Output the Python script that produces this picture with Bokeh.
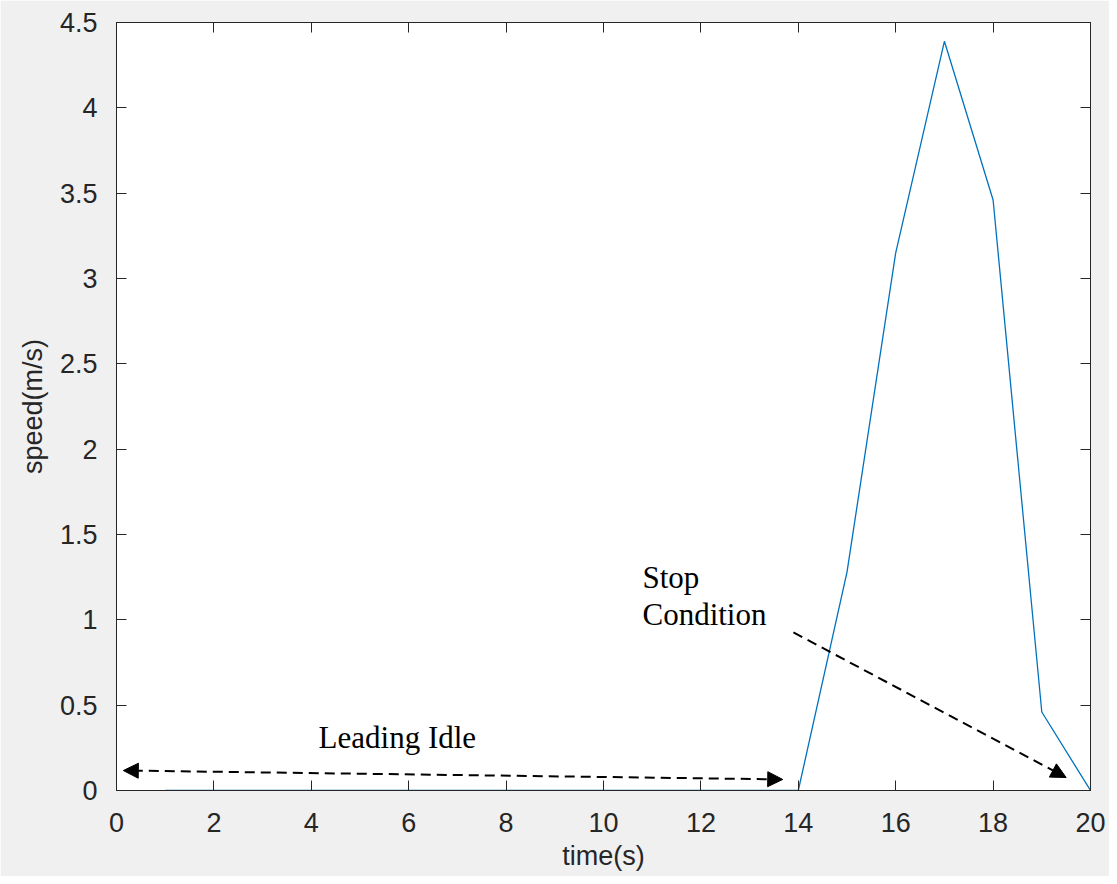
from bokeh.plotting import figure
from bokeh.models import Range1d, LinearAxis, FixedTicker, Arrow, NormalHead, Label
from bokeh.embed import file_html
from bokeh.resources import INLINE

# ---- data ----
time_s = [1, 2, 3, 4, 5, 6, 7, 8, 9, 10, 11, 12, 13, 14, 15, 16, 17, 18, 19, 20]
speed = [0, 0, 0, 0, 0, 0, 0, 0, 0, 0, 0, 0, 0, 0, 1.28, 3.15, 4.39, 3.46, 0.46, 0.0]

x_ticks = [0, 2, 4, 6, 8, 10, 12, 14, 16, 18, 20]
x_tick_labels = ["0", "2", "4", "6", "8", "10", "12", "14", "16", "18", "20"]
y_ticks = [0, 0.5, 1, 1.5, 2, 2.5, 3, 3.5, 4, 4.5]
y_tick_labels = ["0", "0.5", "1", "1.5", "2", "2.5", "3", "3.5", "4", "4.5"]

# annotation anchors (data units)
idle_arrow = (13.68, 0.065, 0.14, 0.117)   # x_start, y_start, x_end, y_end
stop_arrow = (13.9, 0.926, 19.5, 0.076)
idle_text = ("Leading Idle", 4.15, 0.31)
stop_text = [("Stop", 10.8, 1.248), ("Condition", 10.8, 1.03)]

AX = "#262626"
BG = "#f0f0f0"
FONT = "Liberation Sans"
SERIF = "Liberation Serif"

p = figure(width=1109, height=876, output_backend="svg", toolbar_location=None,
           x_range=Range1d(0, 20), y_range=Range1d(0, 4.5),
           min_border_left=116, min_border_right=19, min_border_top=22, min_border_bottom=86,
           x_axis_label="time(s)", y_axis_label="speed(m/s)")
p.border_fill_color = BG
p.background_fill_color = "white"
p.outline_line_color = AX
p.outline_line_width = 1
p.grid.visible = False

for ax, ticks, labels in ((p.xaxis[0], x_ticks, x_tick_labels), (p.yaxis[0], y_ticks, y_tick_labels)):
    ax.ticker = FixedTicker(ticks=ticks)
    ax.major_label_overrides = {t: l for t, l in zip(ticks, labels)}
    ax.major_tick_in = 10
    ax.major_tick_out = 0
    ax.minor_tick_line_color = None
    ax.axis_line_color = AX
    ax.major_tick_line_color = AX
    ax.major_label_text_color = AX
    ax.major_label_text_font = FONT
    ax.major_label_text_font_size = "27px"
    ax.axis_label_text_font = FONT
    ax.axis_label_text_font_size = "27px"
    ax.axis_label_text_font_style = "normal"
    ax.axis_label_text_color = AX

p.xaxis[0].major_label_standoff = 22
p.xaxis[0].axis_label_standoff = 6
p.yaxis[0].major_label_standoff = 19
p.yaxis[0].axis_label_standoff = 9

# box ticks on top and right (no labels)
top = LinearAxis(ticker=FixedTicker(ticks=x_ticks))
right = LinearAxis(ticker=FixedTicker(ticks=y_ticks))
for ax, ticks in ((top, x_ticks), (right, y_ticks)):
    ax.major_label_overrides = {t: "" for t in ticks}
    ax.major_tick_in = 10
    ax.major_tick_out = 0
    ax.minor_tick_line_color = None
    ax.axis_line_color = AX
    ax.major_tick_line_color = AX
    ax.major_label_text_font_size = "1px"
    ax.major_label_standoff = 0
p.add_layout(top, "above")
p.add_layout(right, "right")

p.line(time_s, speed, line_color="#0072BD", line_width=1.3)

for (xs, ys, xe, ye), both in ((idle_arrow, True), (stop_arrow, False)):
    arr = Arrow(x_start=xs, y_start=ys, x_end=xe, y_end=ye,
                line_color="black", line_width=2, line_dash="10 6",
                end=NormalHead(size=15, fill_color="black", line_color="black"),
                start=NormalHead(size=15, fill_color="black", line_color="black") if both else None)
    p.add_layout(arr)

p.add_layout(Label(x=idle_text[1], y=idle_text[2], text=idle_text[0], text_font=SERIF,
                   text_font_size="31px", text_color="black", text_baseline="alphabetic"))
for t, x, y in stop_text:
    p.add_layout(Label(x=x, y=y, text=t, text_font=SERIF, text_font_size="31px",
                       text_color="black", text_baseline="alphabetic"))

open("out.html", "w").write(file_html(p, INLINE))
